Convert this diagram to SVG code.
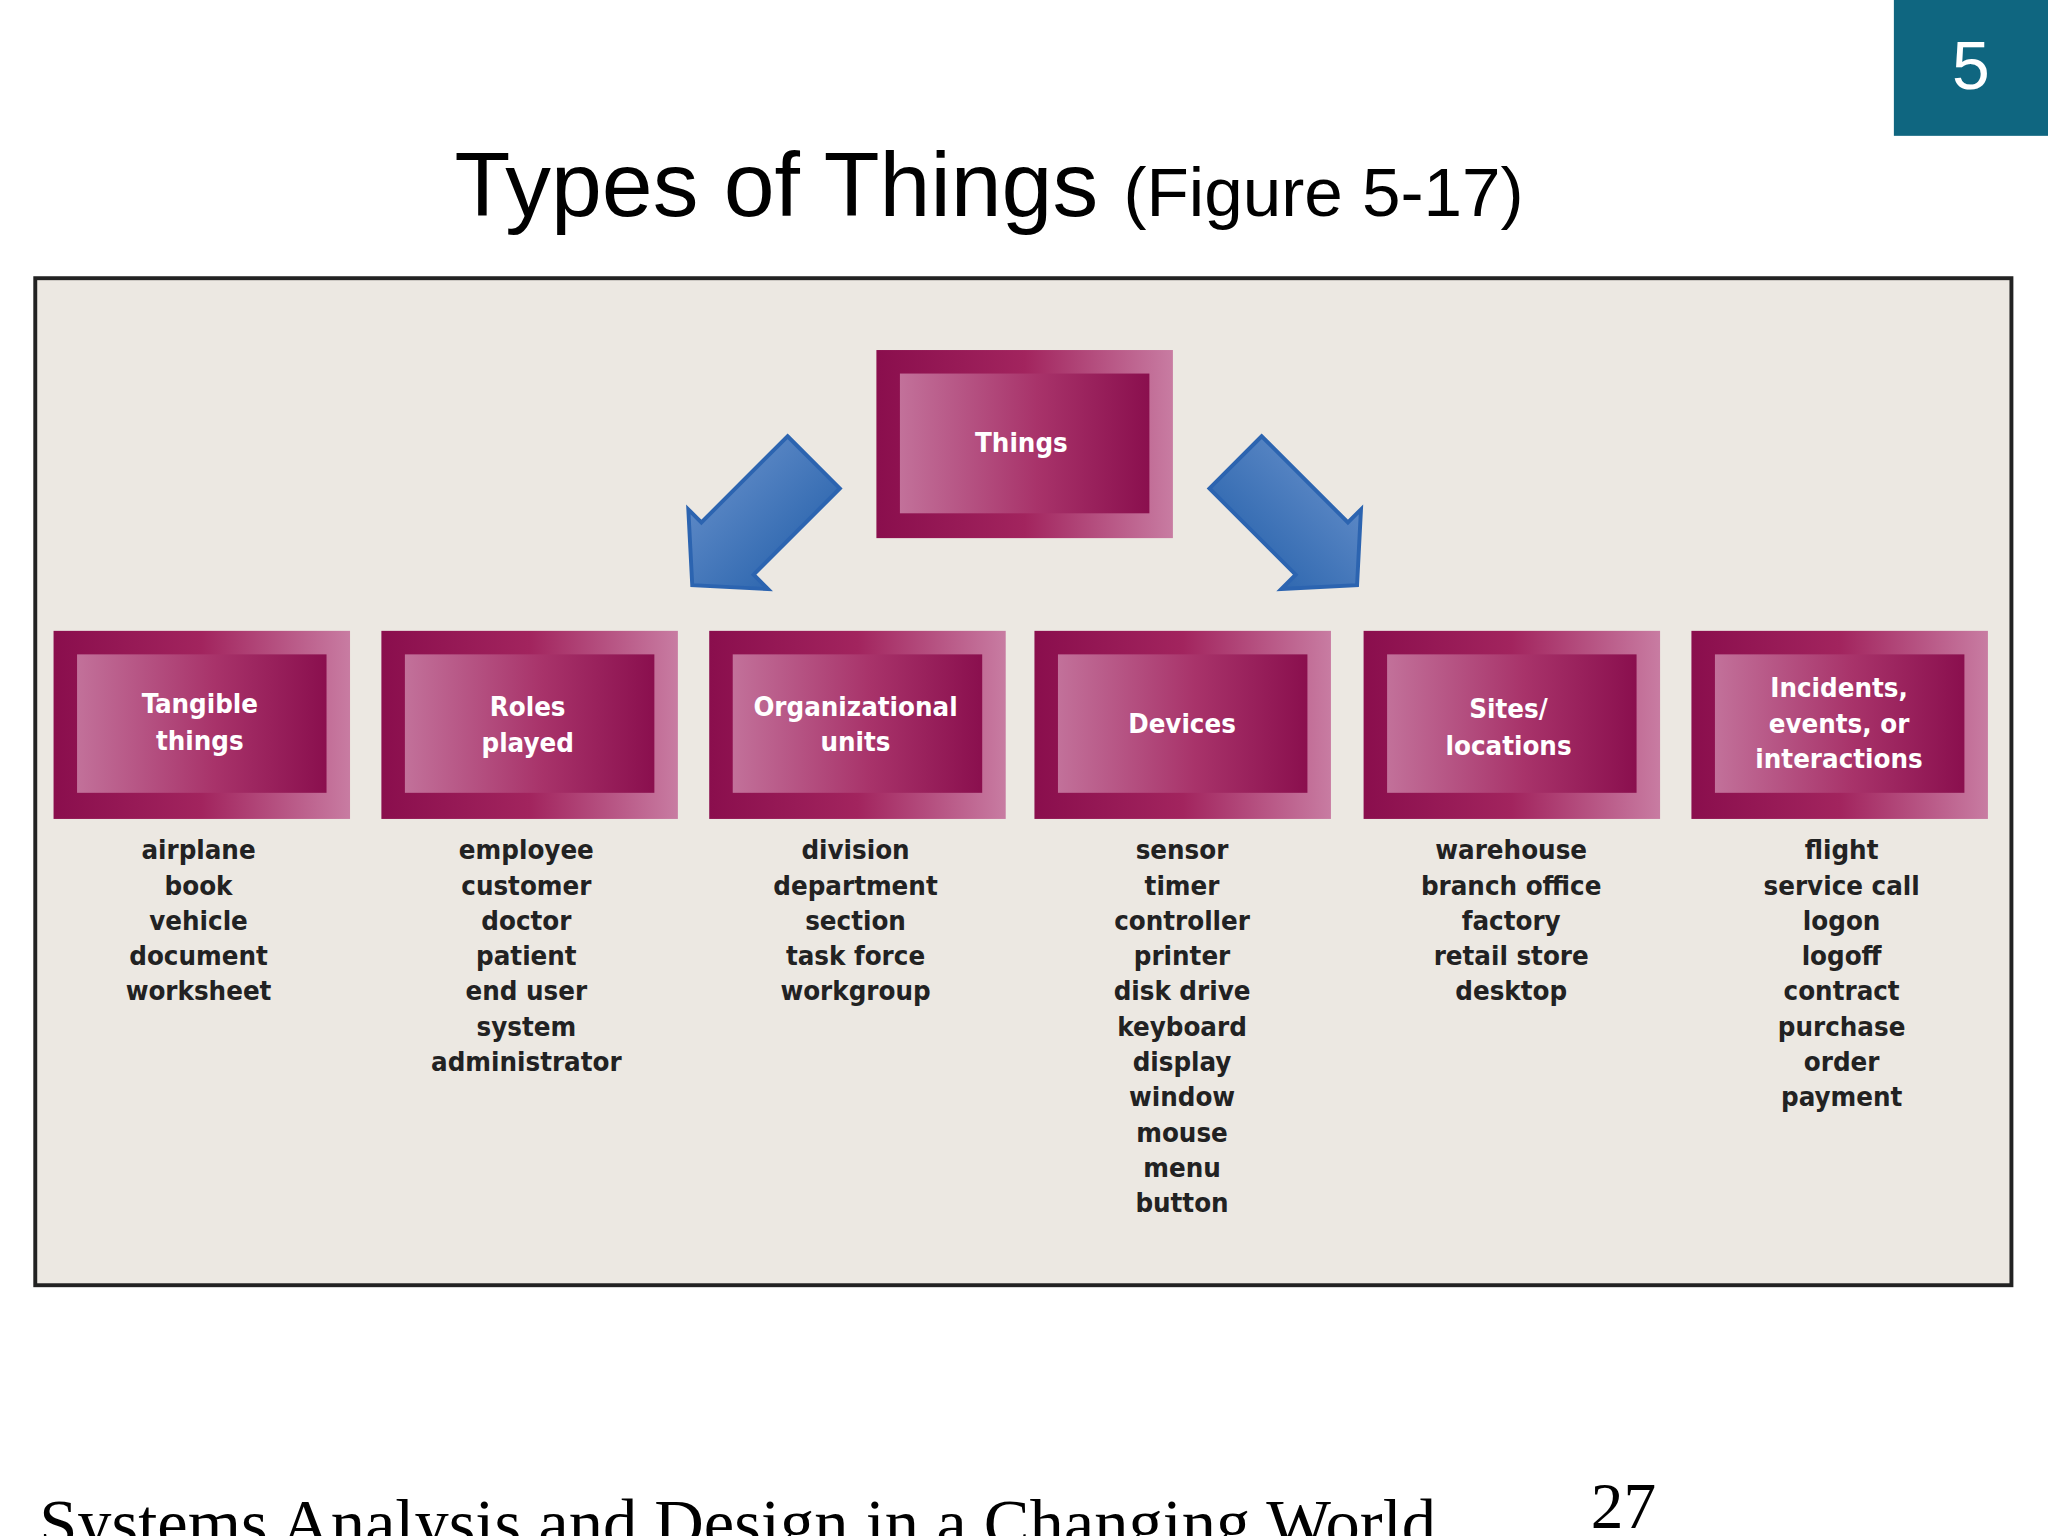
<svg xmlns="http://www.w3.org/2000/svg" width="2048" height="1536" viewBox="0 0 2048 1536">
<defs>
<linearGradient id="go" x1="0" y1="0" x2="1" y2="0"><stop offset="0" stop-color="#8a0e4d"/><stop offset="0.5" stop-color="#a2245e"/><stop offset="1" stop-color="#c87ca2"/></linearGradient>
<linearGradient id="gi" x1="0" y1="0" x2="1" y2="0"><stop offset="0" stop-color="#c2719a"/><stop offset="0.55" stop-color="#a8336a"/><stop offset="1" stop-color="#8a0f4e"/></linearGradient>
<linearGradient id="ga" x1="0" y1="0" x2="1" y2="1"><stop offset="0" stop-color="#6f96cf"/><stop offset="1" stop-color="#1c5aa6"/></linearGradient>
<linearGradient id="gb" x1="1" y1="0" x2="0" y2="1"><stop offset="0" stop-color="#6f96cf"/><stop offset="1" stop-color="#1c5aa6"/></linearGradient>
<style>
.o{fill:url(#go)}.i{fill:url(#gi)}
.h{font-family:"DejaVu Sans Condensed","DejaVu Sans",sans-serif;font-weight:bold;font-size:21px;fill:#fff;text-anchor:middle}
.l{font-family:"DejaVu Sans Condensed","DejaVu Sans",sans-serif;font-weight:bold;font-size:21px;fill:#222;text-anchor:middle}
</style>
</defs>
<rect width="2048" height="1536" fill="#fff"/>
<g transform="scale(1.30612)">
<rect x="1450" y="0" width="118" height="104" fill="#0f6680"/>
<text x="1509" y="68" font-family="Liberation Sans,Arial,sans-serif" font-size="52" fill="#fff" text-anchor="middle">5</text>
<text x="348" y="165" font-family="Liberation Sans,Arial,sans-serif" font-size="70" fill="#000">Types of Things <tspan font-size="53">(Figure 5-17)</tspan></text>
<rect x="27" y="213" width="1513" height="771" fill="#ece8e2" stroke="#222" stroke-width="3"/>
<g id="connectors">
<polygon points="603,334 643,374 577,440 588,451 530,448 527,390 537,400" fill="url(#ga)" stroke="#2c64b0" stroke-width="3"/>
<polygon points="966,334 926,374 992,440 981,451 1039,448 1042,390 1032,400" fill="url(#gb)" stroke="#2c64b0" stroke-width="3"/>
</g>
<g id="things"><rect class="o" x="671" y="268" width="227" height="144"/><rect class="i" x="689" y="286" width="191" height="107"/><text class="h" x="782" y="346">Things</text></g>
<g id="tangible"><rect class="o" x="41" y="483" width="227" height="144"/><rect class="i" x="59" y="501" width="191" height="106"/><text class="h" x="153" y="546">Tangible</text><text class="h" x="153" y="574">things</text>
<text class="l" x="152" y="658">airplane</text><text class="l" x="152" y="685">book</text><text class="l" x="152" y="712">vehicle</text><text class="l" x="152" y="739">document</text><text class="l" x="152" y="766">worksheet</text></g>
<g id="roles"><rect class="o" x="292" y="483" width="227" height="144"/><rect class="i" x="310" y="501" width="191" height="106"/><text class="h" x="404" y="548">Roles</text><text class="h" x="404" y="576">played</text>
<text class="l" x="403" y="658">employee</text><text class="l" x="403" y="685">customer</text><text class="l" x="403" y="712">doctor</text><text class="l" x="403" y="739">patient</text><text class="l" x="403" y="766">end user</text><text class="l" x="403" y="793">system</text><text class="l" x="403" y="820">administrator</text></g>
<g id="org"><rect class="o" x="543" y="483" width="227" height="144"/><rect class="i" x="561" y="501" width="191" height="106"/><text class="h" x="655" y="548">Organizational</text><text class="h" x="655" y="575">units</text>
<text class="l" x="655" y="658">division</text><text class="l" x="655" y="685">department</text><text class="l" x="655" y="712">section</text><text class="l" x="655" y="739">task force</text><text class="l" x="655" y="766">workgroup</text></g>
<g id="devices"><rect class="o" x="792" y="483" width="227" height="144"/><rect class="i" x="810" y="501" width="191" height="106"/><text class="h" x="905" y="561">Devices</text>
<text class="l" x="905" y="658">sensor</text><text class="l" x="905" y="685">timer</text><text class="l" x="905" y="712">controller</text><text class="l" x="905" y="739">printer</text><text class="l" x="905" y="766">disk drive</text><text class="l" x="905" y="793">keyboard</text><text class="l" x="905" y="820">display</text><text class="l" x="905" y="847">window</text><text class="l" x="905" y="874">mouse</text><text class="l" x="905" y="901">menu</text><text class="l" x="905" y="928">button</text></g>
<g id="sites"><rect class="o" x="1044" y="483" width="227" height="144"/><rect class="i" x="1062" y="501" width="191" height="106"/><text class="h" x="1155" y="550">Sites/</text><text class="h" x="1155" y="578">locations</text>
<text class="l" x="1157" y="658">warehouse</text><text class="l" x="1157" y="685">branch office</text><text class="l" x="1157" y="712">factory</text><text class="l" x="1157" y="739">retail store</text><text class="l" x="1157" y="766">desktop</text></g>
<g id="incidents"><rect class="o" x="1295" y="483" width="227" height="144"/><rect class="i" x="1313" y="501" width="191" height="106"/><text class="h" x="1408" y="534">Incidents,</text><text class="h" x="1408" y="561">events, or</text><text class="h" x="1408" y="588">interactions</text>
<text class="l" x="1410" y="658">flight</text><text class="l" x="1410" y="685">service call</text><text class="l" x="1410" y="712">logon</text><text class="l" x="1410" y="739">logoff</text><text class="l" x="1410" y="766">contract</text><text class="l" x="1410" y="793">purchase</text><text class="l" x="1410" y="820">order</text><text class="l" x="1410" y="847">payment</text></g>
<text x="30" y="1184" font-family="Liberation Serif,Times New Roman,serif" font-size="52.5" fill="#000">Systems Analysis and Design in a Changing World</text>
<text x="1218" y="1170" font-family="Liberation Serif,Times New Roman,serif" font-size="50" fill="#000">27</text>
</g>
</svg>
